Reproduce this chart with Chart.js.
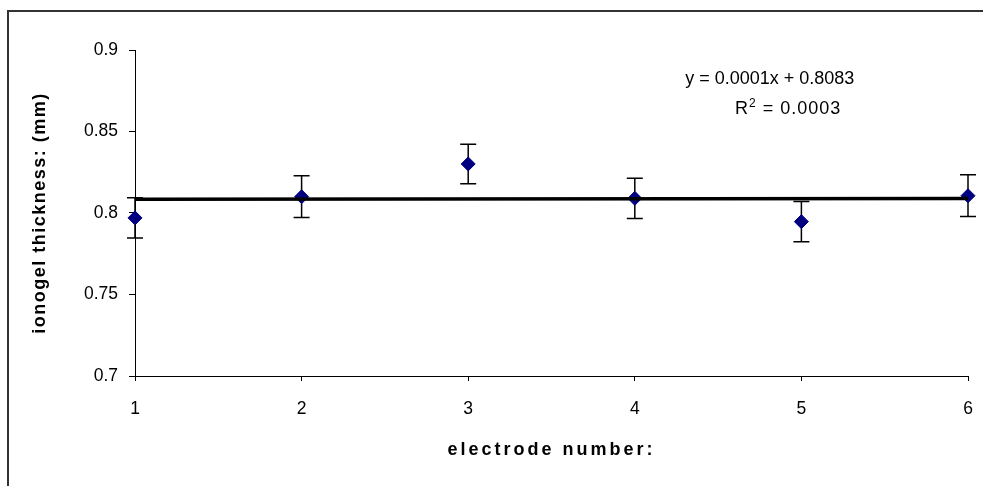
<!DOCTYPE html>
<html>
<head>
<meta charset="utf-8">
<script src="https://cdn.jsdelivr.net/npm/chart.js@4/dist/chart.umd.min.js"></script>
<style>
  html, body { margin: 0; padding: 0; background: #fff; }
  #wrap { width: 983px; height: 486px; position: relative; }
</style>
</head>
<body>
<div id="wrap"><canvas id="c" width="983" height="486"></canvas></div>
<script>
// ---- data ----
const electrodes = [1, 2, 3, 4, 5, 6];
const thickness = [0.797, 0.8100, 0.8301, 0.809, 0.7947, 0.8106];
const errors = [0.0124, 0.0128, 0.0121, 0.0123, 0.0123, 0.0128];
const trendX = [1, 6];
const trendY = [0.8084, 0.8089];
const xTicks = [1, 2, 3, 4, 5, 6];
const xTickLabels = ['1', '2', '3', '4', '5', '6'];
const yTicks = [0.7, 0.75, 0.8, 0.85, 0.9];
const yTickLabels = ['0.7', '0.75', '0.8', '0.85', '0.9'];
const equationText = 'y = 0.0001x + 0.8083';
const r2Value = '0.0003';
const xTitle = 'electrode number:';
const yTitle = 'ionogel thickness: (mm)';

const FONT = "'Liberation Sans', Arial, sans-serif";

const frame = {
  id: 'frame',
  beforeDraw(chart) {
    const ctx = chart.ctx;
    ctx.save();
    ctx.fillStyle = '#fff';
    ctx.fillRect(0, 0, chart.width, chart.height);
    ctx.strokeStyle = '#333';
    ctx.lineWidth = 2;
    ctx.strokeRect(8, 11, 1200, 1000);
    ctx.restore();
  }
};

const errorBars = {
  id: 'errorBars',
  beforeDatasetsDraw(chart) {
    const ctx = chart.ctx;
    const xs = chart.scales.x, ys = chart.scales.y;
    ctx.save();
    ctx.strokeStyle = '#000';
    ctx.lineWidth = 1.5;
    electrodes.forEach((e, i) => {
      const px = xs.getPixelForValue(e);
      const top = ys.getPixelForValue(thickness[i] + errors[i]);
      const bot = ys.getPixelForValue(thickness[i] - errors[i]);
      ctx.beginPath();
      ctx.moveTo(px, top); ctx.lineTo(px, bot);
      ctx.moveTo(px - 8, top); ctx.lineTo(px + 8, top);
      ctx.moveTo(px - 8, bot); ctx.lineTo(px + 8, bot);
      ctx.stroke();
    });
    ctx.restore();
  }
};

const equation = {
  id: 'equation',
  afterDraw(chart) {
    const ctx = chart.ctx;
    const xs = chart.scales.x, ys = chart.scales.y;
    const F = '18px ' + FONT;
    ctx.save();
    ctx.fillStyle = '#000';
    ctx.textBaseline = 'alphabetic';
    ctx.font = F;
    ctx.textAlign = 'center';
    const cx = xs.getPixelForValue(4.81);
    const y1 = ys.getPixelForValue(0.8792);
    ctx.fillText(equationText, cx, y1);
    const y2 = ys.getPixelForValue(0.8608);
    const restTxt = ' = ' + r2Value;
    ctx.letterSpacing = '1px';
    ctx.font = F;
    const wR = ctx.measureText('R').width;
    const wRest = ctx.measureText(restTxt).width;
    ctx.font = '12px ' + FONT;
    const wSup = ctx.measureText('2').width;
    const total = wR + wSup + wRest;
    let x0 = xs.getPixelForValue(4.92) - total / 2;
    ctx.textAlign = 'left';
    ctx.font = F;
    ctx.fillText('R', x0, y2);
    ctx.font = '12px ' + FONT;
    ctx.fillText('2', x0 + wR, y2 - 7);
    ctx.font = F;
    ctx.fillText(restTxt, x0 + wR + wSup, y2);
    ctx.restore();
  }
};

function spacedTitle(scale, spacing) {
  if (!scale || scale._spaced) return;
  scale._spaced = true;
  const orig = scale.drawTitle.bind(scale);
  scale.drawTitle = function () {
    const ctx = scale.ctx;
    ctx.save();
    ctx.letterSpacing = spacing;
    orig();
    ctx.restore();
  };
}
const titleSpacing = {
  id: 'titleSpacing',
  beforeDraw(chart) {
    spacedTitle(chart.scales.x, '3px');
    spacedTitle(chart.scales.y, '1.5px');
  }
};

new Chart(document.getElementById('c'), {
  type: 'scatter',
  data: {
    datasets: [
      {
        label: 'trend',
        type: 'line',
        data: trendX.map((x, i) => ({ x: x, y: trendY[i] })),
        borderColor: '#000',
        borderWidth: 3.5,
        pointRadius: 0,
        fill: false,
        clip: false,
        order: 0
      },
      {
        label: 'thickness',
        data: electrodes.map((x, i) => ({ x: x, y: thickness[i] })),
        pointStyle: 'rectRot',
        pointRadius: 7,
        pointHoverRadius: 7,
        backgroundColor: '#000080',
        borderColor: '#000080',
        borderWidth: 1,
        clip: false,
        order: 1
      }
    ]
  },
  options: {
    responsive: false,
    animation: false,
    events: [],
    layout: { padding: { left: 0, top: 50, right: 15, bottom: 0 } },
    plugins: {
      legend: { display: false },
      tooltip: { enabled: false }
    },
    scales: {
      x: {
        type: 'linear',
        min: 1, max: 6,
        afterBuildTicks(scale) { scale.ticks = xTicks.map(v => ({ value: v })); },
        afterFit(scale) { scale.height = 110; scale.paddingLeft = 0; scale.paddingRight = 0; },
        ticks: {
          color: '#000',
          font: { family: FONT, size: 17.5 },
          padding: 18,
          maxRotation: 0,
          callback(value, index) { return xTickLabels[index]; }
        },
        grid: { drawOnChartArea: false, drawTicks: true, tickLength: 5, color: '#000', lineWidth: 1 },
        border: { display: true, color: '#000', width: 1 },
        title: {
          display: true,
          text: xTitle,
          color: '#000',
          font: { family: FONT, size: 18, weight: 'bold' },
          padding: { top: 0, bottom: 25 }
        }
      },
      y: {
        type: 'linear',
        min: 0.7, max: 0.9,
        afterBuildTicks(scale) { scale.ticks = yTicks.map(v => ({ value: v })); },
        afterFit(scale) { scale.width = 135; scale.paddingTop = 0; scale.paddingBottom = 0; },
        ticks: {
          color: '#000',
          font: { family: FONT, size: 17.5 },
          padding: 11,
          callback(value, index) { return yTickLabels[index]; }
        },
        grid: { drawOnChartArea: false, drawTicks: true, tickLength: 6, color: '#000', lineWidth: 1 },
        border: { display: true, color: '#000', width: 1 },
        title: {
          display: true,
          text: yTitle,
          color: '#000',
          font: { family: FONT, size: 18, weight: 'bold' },
          padding: { top: 29, bottom: 0 }
        }
      }
    }
  },
  plugins: [frame, errorBars, equation, titleSpacing]
});
</script>
</body>
</html>
